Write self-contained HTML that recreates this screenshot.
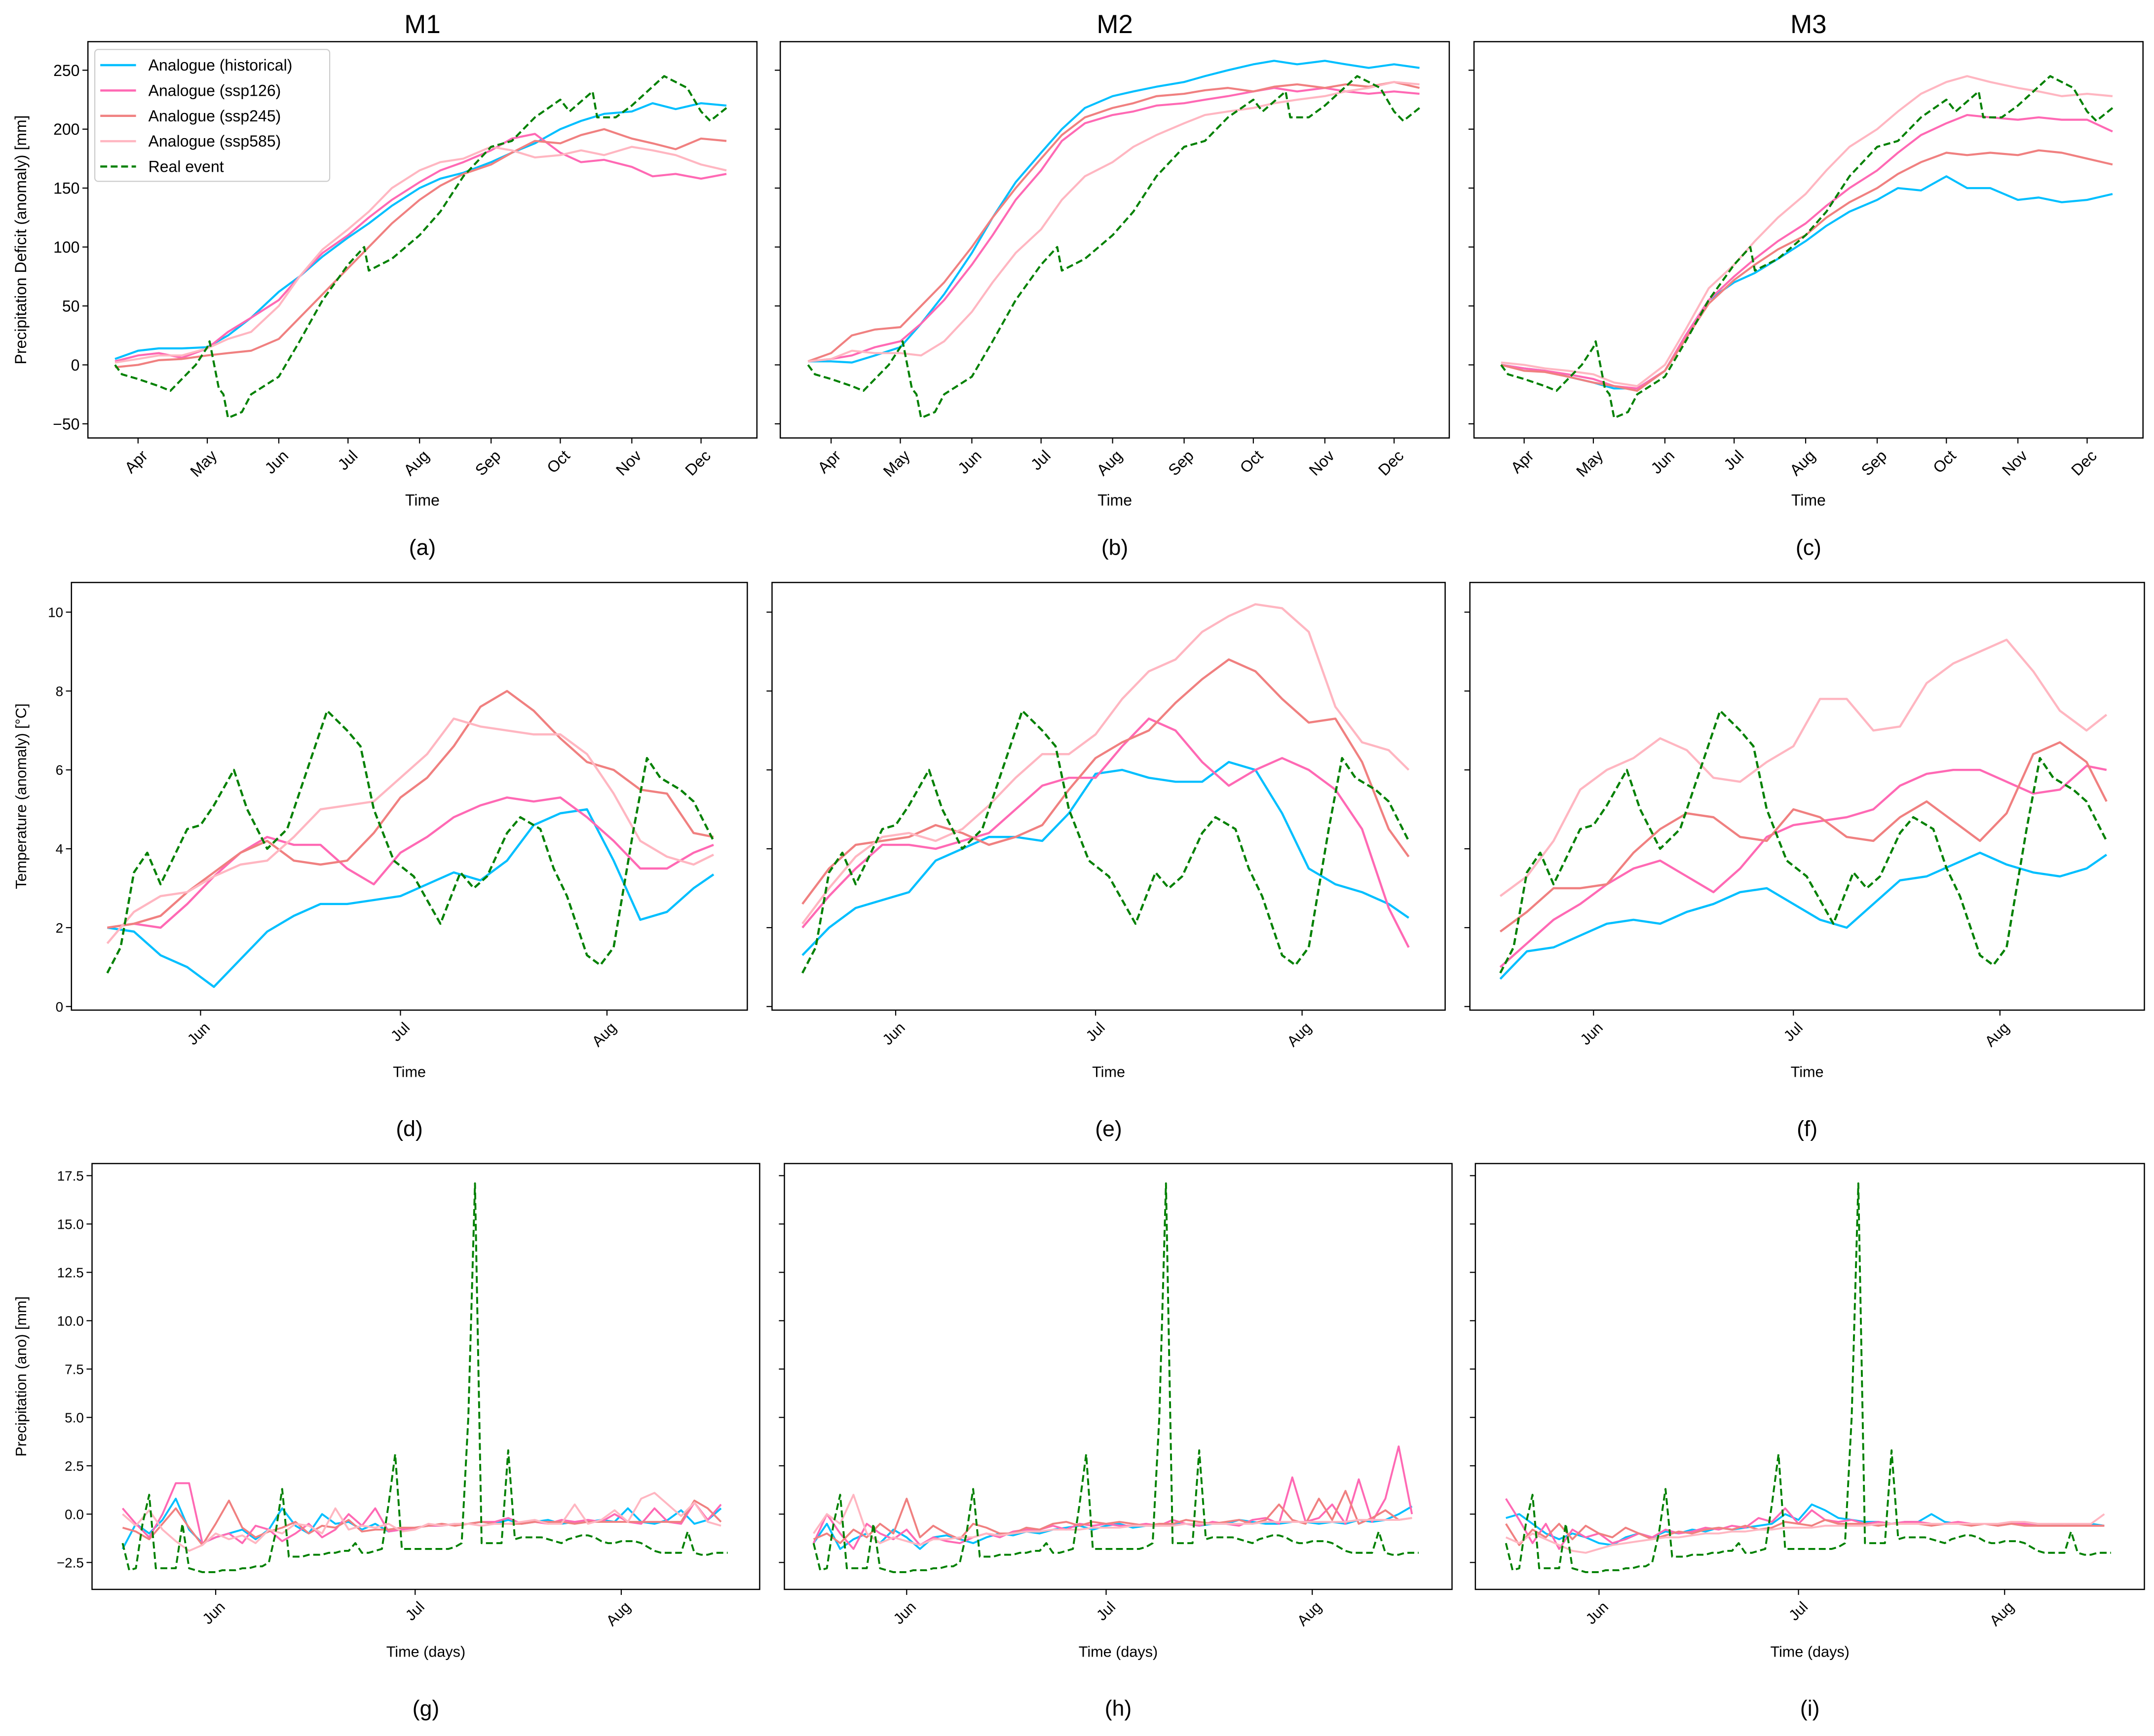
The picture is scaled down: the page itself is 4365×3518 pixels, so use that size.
<!DOCTYPE html>
<html><head><meta charset="utf-8"><style>
html,body{margin:0;padding:0;background:#fff;}
svg{display:block;font-family:"Liberation Sans","DejaVu Sans",sans-serif;}
</style></head><body>
<svg id="fig" width="4365" height="3518" viewBox="0 0 1568 1263.7" xmlns="http://www.w3.org/2000/svg"></svg>
<script>
// ---------- Row 1: precipitation deficit (days from Mar 22) ----------
const r1Days = [0,10,19,29,40,49,59,71,80,90,101,110,120,132,141,151,163,172,182,193,202,212,224,233,243,254,265];
const r1MonthLabels = ["Apr","May","Jun","Jul","Aug","Sep","Oct","Nov","Dec"];
const r1MonthDays = [10,40,71,101,132,163,193,224,254];
const r1YTicks = [-50,0,50,100,150,200,250];
const aHist = [5,12,14,14,15,25,40,62,75,92,108,120,135,150,158,163,172,180,188,200,207,213,215,222,217,222,220];
const a126 = [3,8,10,6,14,28,40,55,75,95,110,125,140,155,165,172,182,192,196,180,172,174,168,160,162,158,162];
const a245 = [-2,0,4,5,8,10,12,22,40,60,82,100,120,140,152,162,170,180,190,188,195,200,192,188,183,192,190];
const a585 = [2,5,8,8,14,22,28,50,75,98,115,130,150,165,172,175,185,182,176,178,182,178,185,182,178,170,165];
const bHist = [3,3,2,8,15,35,60,95,125,155,180,200,218,228,232,236,240,245,250,255,258,255,258,255,252,255,252];
const b126 = [3,5,8,15,20,35,55,85,110,140,165,190,205,212,215,220,222,225,228,232,235,232,235,232,230,232,230];
const b245 = [3,10,25,30,32,50,70,100,125,150,175,195,210,218,222,228,230,233,235,232,236,238,235,238,236,240,235];
const b585 = [3,5,12,10,10,8,20,45,70,95,115,140,160,172,185,195,205,212,215,218,222,225,228,232,235,240,238];
const cHist = [0,-3,-5,-10,-15,-20,-20,-5,25,55,70,78,90,105,118,130,140,150,148,160,150,150,140,142,138,140,145];
const c126 = [0,-3,-5,-8,-12,-18,-20,-5,25,55,75,90,105,120,135,150,165,180,195,205,212,210,208,210,208,208,198];
const c245 = [0,-5,-6,-10,-15,-18,-22,-5,22,52,72,85,98,110,125,138,150,162,172,180,178,180,178,182,180,175,170];
const c585 = [2,0,-3,-5,-8,-15,-18,0,30,65,85,105,125,145,165,185,200,215,230,240,245,240,235,232,228,230,228];
const r1RealDays = [0,3,10,19,24,30,35,40,41,45,47,49,55,59,71,80,90,101,108,110,120,132,141,151,163,172,182,193,197,207,209,217,224,238,248,254,258,265];
const r1RealVals = [0,-8,-12,-18,-22,-10,0,15,20,-20,-25,-45,-40,-25,-10,20,55,85,100,80,90,110,130,160,185,190,210,225,215,232,210,210,220,245,235,215,207,218];

// ---------- Row 2: temperature (days from May 18) ----------
const r2Days = [0,4,8,12,16,20,24,28,32,36,40,44,48,52,56,60,64,68,72,76,80,84,88,91];
const r23MonthLabels = ["Jun","Jul","Aug"];
const r23MonthDays = [14,44,75];
const r2YTicks = [0,2,4,6,8,10];
const dHist = [2.0,1.9,1.3,1.0,0.5,1.2,1.9,2.3,2.6,2.6,2.7,2.8,3.1,3.4,3.2,3.7,4.6,4.9,5.0,3.7,2.2,2.4,3.0,3.35];
const d126 = [2.0,2.1,2.0,2.6,3.3,3.9,4.3,4.1,4.1,3.5,3.1,3.9,4.3,4.8,5.1,5.3,5.2,5.3,4.8,4.2,3.5,3.5,3.9,4.1];
const d245 = [2.0,2.1,2.3,2.9,3.4,3.9,4.2,3.7,3.6,3.7,4.4,5.3,5.8,6.6,7.6,8.0,7.5,6.8,6.2,6.0,5.5,5.4,4.4,4.3];
const d585 = [1.6,2.4,2.8,2.9,3.3,3.6,3.7,4.3,5.0,5.1,5.2,5.8,6.4,7.3,7.1,7.0,6.9,6.9,6.4,5.4,4.2,3.8,3.6,3.85];
const eHist = [1.3,2.0,2.5,2.7,2.9,3.7,4.0,4.3,4.3,4.2,4.9,5.9,6.0,5.8,5.7,5.7,6.2,6.0,4.9,3.5,3.1,2.9,2.6,2.25];
const e126 = [2.0,2.8,3.5,4.1,4.1,4.0,4.2,4.4,5.0,5.6,5.8,5.8,6.6,7.3,7.0,6.2,5.6,6.0,6.3,6.0,5.5,4.5,2.5,1.5];
const e245 = [2.6,3.5,4.1,4.2,4.3,4.6,4.4,4.1,4.3,4.6,5.5,6.3,6.7,7.0,7.7,8.3,8.8,8.5,7.8,7.2,7.3,6.2,4.5,3.8];
const e585 = [2.1,3.0,3.8,4.3,4.4,4.2,4.5,5.1,5.8,6.4,6.4,6.9,7.8,8.5,8.8,9.5,9.9,10.2,10.1,9.5,7.6,6.7,6.5,6.0];
const fHist = [0.7,1.4,1.5,1.8,2.1,2.2,2.1,2.4,2.6,2.9,3.0,2.6,2.2,2.0,2.6,3.2,3.3,3.6,3.9,3.6,3.4,3.3,3.5,3.85];
const f126 = [1.0,1.6,2.2,2.6,3.1,3.5,3.7,3.3,2.9,3.5,4.3,4.6,4.7,4.8,5.0,5.6,5.9,6.0,6.0,5.7,5.4,5.5,6.1,6.0];
const f245 = [1.9,2.4,3.0,3.0,3.1,3.9,4.5,4.9,4.8,4.3,4.2,5.0,4.8,4.3,4.2,4.8,5.2,4.7,4.2,4.9,6.4,6.7,6.2,5.2];
const f585 = [2.8,3.3,4.2,5.5,6.0,6.3,6.8,6.5,5.8,5.7,6.2,6.6,7.8,7.8,7.0,7.1,8.2,8.7,9.0,9.3,8.5,7.5,7.0,7.4];
const r2RealDays = [0,2,4,6,8,10,12,14,16,19,21,24,27,30,33,36,38,40,43,46,50,53,55,57,60,62,65,67,69,72,74,76,79,81,83,86,88,91];
const r2RealVals = [0.85,1.5,3.4,3.9,3.1,3.8,4.5,4.6,5.1,6.0,5.0,4.0,4.5,6.0,7.5,7.0,6.6,5.0,3.7,3.3,2.1,3.4,3.0,3.3,4.4,4.8,4.5,3.5,2.8,1.3,1.05,1.5,4.5,6.3,5.8,5.5,5.2,4.2];

// ---------- Row 3: precipitation (every 2 days from May 18; real event daily) ----------
const r3YTicks = [-2.5,0,2.5,5,7.5,10,12.5,15,17.5];
const r3YTickLabels = ["\u22122.5","0.0","2.5","5.0","7.5","10.0","12.5","15.0","17.5"];
const gHist = [-1.8,-0.5,-1.0,-0.3,0.8,-0.8,-1.5,-1.2,-1.0,-0.8,-1.3,-0.8,0.3,-0.6,-1.0,0.0,-0.5,-0.4,-0.8,-0.5,-0.9,-0.8,-0.7,-0.6,-0.6,-0.5,-0.5,-0.4,-0.5,-0.3,-0.5,-0.4,-0.3,-0.5,-0.4,-0.4,-0.3,-0.4,0.3,-0.4,-0.5,-0.3,0.2,-0.5,-0.3,0.3];
const g126 = [0.3,-0.5,-1.2,0.0,1.6,1.6,-1.5,-1.2,-1.0,-1.5,-0.6,-0.8,-1.4,-1.0,-0.5,-1.2,-0.8,0.0,-0.6,0.3,-0.9,-0.8,-0.7,-0.6,-0.6,-0.5,-0.5,-0.4,-0.4,-0.2,-0.5,-0.4,-0.5,-0.3,-0.4,-0.3,-0.4,0.0,-0.4,-0.5,0.3,-0.4,-0.5,0.6,-0.3,0.5];
const g245 = [-0.7,-0.9,-1.3,-0.5,0.3,-0.7,-1.6,-0.5,0.7,-0.7,-1.2,-0.9,-0.7,-0.4,-1.0,-0.6,-0.7,-0.3,-0.9,-0.8,-0.8,-0.7,-0.7,-0.6,-0.5,-0.6,-0.5,-0.4,-0.5,-0.5,-0.5,-0.4,-0.4,-0.4,-0.5,-0.4,-0.4,-0.4,-0.4,-0.4,-0.4,-0.4,-0.4,0.7,0.3,-0.4];
const g585 = [0.0,-0.6,0.2,-0.8,-1.4,-1.9,-1.6,-1.0,-1.3,-1.1,-1.5,-0.8,-1.0,-0.5,-0.6,-1.0,0.3,-0.8,-0.6,-0.7,-0.5,-0.9,-0.8,-0.5,-0.6,-0.5,-0.5,-0.6,-0.5,-0.5,-0.4,-0.3,-0.5,-0.5,0.5,-0.5,-0.3,0.2,-0.4,0.8,1.1,0.5,-0.1,0.6,-0.4,-0.6];
const hHist = [-1.5,-0.5,-1.8,-1.3,-1.0,-1.5,-0.8,-1.2,-1.8,-1.2,-1.1,-1.3,-1.5,-1.2,-1.0,-1.1,-0.9,-1.0,-0.8,-0.7,-0.6,-0.8,-0.6,-0.5,-0.7,-0.6,-0.6,-0.5,-0.5,-0.6,-0.5,-0.5,-0.3,-0.4,-0.5,-0.5,-0.4,-0.4,-0.5,-0.4,-0.5,-0.3,-0.4,-0.3,0.0,0.4];
const h126 = [-1.5,0.0,-1.0,-1.8,-0.5,-1.0,-1.3,-0.8,-1.6,-1.2,-1.4,-1.5,-1.2,-1.0,-1.2,-0.9,-0.8,-0.8,-0.6,-0.8,-0.5,-0.6,-0.5,-0.6,-0.6,-0.5,-0.6,-0.3,-0.5,-0.6,-0.4,-0.5,-0.6,-0.3,-0.2,-0.5,1.9,-0.4,-0.2,0.5,-0.5,1.8,-0.4,0.8,3.5,0.0];
const h245 = [-1.3,-1.0,-1.5,-0.8,-1.2,-0.5,-1.0,0.8,-1.2,-0.6,-1.0,-1.3,-0.5,-0.7,-1.0,-1.0,-0.7,-0.8,-0.5,-0.4,-0.6,-0.4,-0.5,-0.4,-0.5,-0.6,-0.5,-0.5,-0.3,-0.4,-0.5,-0.4,-0.3,-0.5,-0.3,0.5,-0.3,-0.5,0.8,-0.3,1.2,-0.5,-0.2,0.2,-0.3,-0.2];
const h585 = [-1.0,0.0,-0.5,1.0,-1.0,-1.5,-1.2,-1.4,-1.6,-1.3,-1.3,-1.2,-1.2,-1.0,-1.1,-1.0,-0.9,-0.9,-0.8,-0.8,-0.8,-0.7,-0.7,-0.7,-0.6,-0.6,-0.6,-0.6,-0.5,-0.5,-0.5,-0.5,-0.5,-0.5,-0.4,-0.4,-0.4,-0.4,-0.4,-0.4,-0.4,-0.3,-0.3,-0.3,-0.3,-0.2];
const iHist = [-0.2,0.0,-0.5,-1.0,-1.3,-1.0,-1.2,-1.5,-1.6,-1.2,-1.0,-1.2,-0.9,-1.0,-0.8,-0.9,-0.7,-0.8,-0.7,-0.6,-0.5,0.0,-0.3,0.5,0.2,-0.2,-0.3,-0.4,-0.4,-0.5,-0.4,-0.4,0.0,-0.4,-0.5,-0.5,-0.5,-0.5,-0.5,-0.5,-0.5,-0.5,-0.6,-0.5,-0.5,-0.6];
const i126 = [0.8,-0.3,-1.5,-0.5,-1.8,-0.8,-1.2,-1.0,-1.5,-1.3,-1.0,-1.2,-0.8,-1.0,-0.9,-0.7,-0.8,-0.6,-0.7,-0.2,-0.4,0.3,-0.5,0.2,-0.3,-0.4,-0.3,-0.5,-0.4,-0.5,-0.4,-0.4,-0.5,-0.5,-0.4,-0.5,-0.5,-0.6,-0.5,-0.5,-0.6,-0.6,-0.6,-0.6,-0.6,-0.6];
const i245 = [-0.5,-1.6,-0.8,-1.2,-0.5,-1.3,-0.6,-1.0,-1.2,-0.7,-1.0,-1.3,-1.1,-0.9,-1.0,-0.8,-0.7,-0.8,-0.6,-0.8,-0.7,-0.4,-0.5,-0.6,-0.3,-0.5,-0.5,-0.5,-0.6,-0.5,-0.5,-0.5,-0.6,-0.5,-0.5,-0.6,-0.5,-0.6,-0.5,-0.6,-0.6,-0.6,-0.6,-0.6,-0.6,-0.6];
const i585 = [-1.2,-1.5,-1.0,-1.3,-1.6,-1.9,-2.0,-1.8,-1.6,-1.5,-1.4,-1.3,-1.2,-1.2,-1.1,-1.0,-1.0,-0.9,-0.9,-0.8,-0.8,-0.7,-0.7,-0.7,-0.6,-0.6,-0.6,-0.6,-0.5,-0.5,-0.5,-0.5,-0.5,-0.5,-0.5,-0.5,-0.5,-0.5,-0.4,-0.4,-0.5,-0.5,-0.5,-0.5,-0.5,0.0];
const r3RealVals = [-1.5,-2.9,-2.8,-0.5,1.0,-2.8,-2.8,-2.8,-2.8,-0.5,-2.8,-2.9,-3.0,-3.0,-3.0,-2.9,-2.9,-2.9,-2.8,-2.8,-2.7,-2.7,-2.5,-1.0,1.3,-2.2,-2.2,-2.2,-2.1,-2.1,-2.1,-2.0,-2.0,-1.9,-1.9,-1.5,-2.0,-2.0,-1.9,-1.8,0.5,3.1,-1.8,-1.8,-1.8,-1.8,-1.8,-1.8,-1.8,-1.8,-1.7,-1.5,5,17.1,-1.5,-1.5,-1.5,-1.5,3.3,-1.3,-1.2,-1.2,-1.2,-1.2,-1.3,-1.4,-1.5,-1.3,-1.2,-1.1,-1.1,-1.2,-1.4,-1.5,-1.5,-1.4,-1.4,-1.4,-1.5,-1.7,-1.9,-2.0,-2.0,-2.0,-2.0,-0.9,-2.0,-2.1,-2.1,-2.0,-2.0,-2.0];

const seriesNames = ["Analogue (historical)","Analogue (ssp126)","Analogue (ssp245)","Analogue (ssp585)","Real event"];
const COLORS = ["#00bfff","#ff69b4","#f08080","#ffb6c1","#008000"];

const NS = "http://www.w3.org/2000/svg";
const svg = document.getElementById("fig");
function mk(tag, attrs, parent){
  const e = document.createElementNS(NS, tag);
  for (const k in attrs) e.setAttribute(k, attrs[k]);
  (parent||svg).appendChild(e);
  return e;
}
function txt(parent, x, y, s, size, anchor, extra){
  const t = mk("text", Object.assign({x:x, y:y, "font-size":size, "text-anchor":anchor||"middle", fill:"#000"}, extra||{}), parent);
  t.textContent = s;
  return t;
}

function panel(p){
  const g = mk("g", {});
  
  
  const xs = d => p.x0 + d * p.pxDay;
  const ys = v => p.yZero - v * p.pxUnit;
  const lines = mk("g", {}, g);
  
  
  p.series.forEach((s) => {
    const pts = s.vals.map((v, i) => xs(s.days ? s.days[i] : i * s.step).toFixed(2) + "," + ys(v).toFixed(2)).join(" ");
    const pl = mk("polyline", {points: pts, fill: "none", stroke: COLORS[s.c], "stroke-width": p.lw, "stroke-linejoin": "round"}, lines);
    if (s.c === 4) pl.setAttribute("stroke-dasharray", p.dash);
    
    
  });
  const fr = mk("rect", {x: p.left, y: p.top, width: p.right - p.left, height: p.bottom - p.top, fill: "none", stroke: "#000", "stroke-width": 0.9}, g);
  
  
  const yt = mk("g", {}, g);
  
  
  p.yTicks.forEach((v, i) => {
    const y = ys(v);
    mk("line", {x1: p.left - 4, x2: p.left, y1: y, y2: y, stroke: "#000", "stroke-width": 0.8}, yt);
    if (p.showY) {
      const lab = p.yLabels ? p.yLabels[i] : (v < 0 ? "\u2212" + Math.abs(v) : String(v));
      const t = txt(yt, p.left - 6, y + p.yFs * 0.36, lab, p.yFs, "end");
      
      
    }
  });
  const xt = mk("g", {}, g);
  
  
  p.monthDays.forEach((d, i) => {
    const x = xs(d);
    mk("line", {x1: x, x2: x, y1: p.bottom, y2: p.bottom + 4, stroke: "#000", "stroke-width": 0.8}, xt);
    const ty = p.bottom + 8;
    const t = txt(xt, x + 2, ty + p.tickFs * 0.7, p.monthLabels[i], p.tickFs, "end", {transform: "rotate(-45 " + (x + 2) + " " + (ty) + ")"});
    
    
  });
  const xl = txt(g, (p.left + p.right) / 2, p.xLabelY, p.xLabel, p.labelFs);
  
  
  const cap = txt(g, (p.left + p.right) / 2, p.capY, p.cap, 16);
  
  
  if (p.title) {
    const tt = txt(g, (p.left + p.right) / 2, 24, p.title, 19);
    
    
  }
  if (p.yTitle) {
    const cy = (p.top + p.bottom) / 2;
    const t = txt(g, 19, cy, p.yTitle, p.labelFs, "middle", {transform: "rotate(-90 19 " + cy + ")"});
    
    
  }
  return g;
}

function mkSeries(h, s1, s2, s5, days, step, realDays, realVals, realStep){
  return [
    {key: "historical", c: 0, vals: h, days: days, step: step},
    {key: "ssp126", c: 1, vals: s1, days: days, step: step},
    {key: "ssp245", c: 2, vals: s2, days: days, step: step},
    {key: "ssp585", c: 3, vals: s5, days: days, step: step},
    {key: "real-event", c: 4, vals: realVals, days: realDays, step: realStep}
  ];
}

const r1 = {top: 30.3, bottom: 318.8, yZero: 265.6, pxUnit: 42.9 / 50, pxDay: 1.6796, yTicks: r1YTicks,
  monthDays: r1MonthDays, monthLabels: r1MonthLabels, tickFs: 11.5, yFs: 11.5, labelFs: 11.5, lw: 1.5, dash: "5,2.6",
  xLabel: "Time", xLabelY: 368, capY: 404, yTitle: null};
[
  {name: "panel-a-m1", left: 64, right: 551, apr: 100.5, title: "M1", cap: "(a)", d: [aHist, a126, a245, a585], showY: true, yTitle: "Precipitation Deficit (anomaly) [mm]"},
  {name: "panel-b-m2", left: 568, right: 1055, apr: 605, title: "M2", cap: "(b)", d: [bHist, b126, b245, b585], showY: false},
  {name: "panel-c-m3", left: 1073, right: 1560, apr: 1109.5, title: "M3", cap: "(c)", d: [cHist, c126, c245, c585], showY: false}
].forEach(c => {
  panel(Object.assign({}, r1, c, {x0: c.apr - 10 * r1.pxDay,
    series: mkSeries(c.d[0], c.d[1], c.d[2], c.d[3], r1Days, 0, r1RealDays, r1RealVals, 0)}));
});

const r2 = {top: 424, bottom: 735.3, yZero: 732.7, pxUnit: 28.71, pxDay: 4.85, yTicks: r2YTicks,
  monthDays: r23MonthDays, monthLabels: r23MonthLabels, tickFs: 11, yFs: 10, labelFs: 11, lw: 1.6, dash: "5,2.6",
  xLabel: "Time", xLabelY: 784, capY: 827};
[
  {name: "panel-d", left: 52, right: 544, jun: 146, cap: "(d)", d: [dHist, d126, d245, d585], showY: true, yTitle: "Temperature (anomaly) [\u00b0C]"},
  {name: "panel-e", left: 562, right: 1052, jun: 652, cap: "(e)", d: [eHist, e126, e245, e585], showY: false},
  {name: "panel-f", left: 1070, right: 1561, jun: 1160, cap: "(f)", d: [fHist, f126, f245, f585], showY: false}
].forEach(c => {
  panel(Object.assign({}, r2, c, {x0: c.jun - 14 * r2.pxDay,
    series: mkSeries(c.d[0], c.d[1], c.d[2], c.d[3], r2Days, 0, r2RealDays, r2RealVals, 0)}));
});

const r3 = {top: 847, bottom: 1157, yZero: 1102.2, pxUnit: 14.08, pxDay: 4.84, yTicks: r3YTicks, yLabels: r3YTickLabels,
  monthDays: r23MonthDays, monthLabels: r23MonthLabels, tickFs: 11, yFs: 10, labelFs: 11, lw: 1.4, dash: "5,2.6",
  xLabel: "Time (days)", xLabelY: 1206, capY: 1249};
[
  {name: "panel-g", left: 67, right: 553, jun: 157, cap: "(g)", d: [gHist, g126, g245, g585], showY: true, yTitle: "Precipitation (ano) [mm]"},
  {name: "panel-h", left: 571, right: 1057, jun: 660, cap: "(h)", d: [hHist, h126, h245, h585], showY: false},
  {name: "panel-i", left: 1074, right: 1561, jun: 1164, cap: "(i)", d: [iHist, i126, i245, i585], showY: false}
].forEach(c => {
  panel(Object.assign({}, r3, c, {x0: c.jun - 14 * r3.pxDay,
    series: mkSeries(c.d[0], c.d[1], c.d[2], c.d[3], null, 2, null, r3RealVals, 1)}));
});

const leg = mk("g", {});


mk("rect", {x: 69, y: 36, width: 171, height: 96, rx: 2.5, fill: "#fff", "fill-opacity": 0.85, stroke: "#ccc", "stroke-width": 0.8}, leg);
seriesNames.forEach((n, i) => {
  const y = 47.4 + i * 18.45;
  const ln = mk("line", {x1: 73, x2: 99, y1: y, y2: y, stroke: COLORS[i], "stroke-width": 1.6}, leg);
  if (i === 4) ln.setAttribute("stroke-dasharray", "5,2.6");
  
  
  const t = txt(leg, 108, y + 4, n, 11.5, "start");
  
  
});
</script>
</body></html>
